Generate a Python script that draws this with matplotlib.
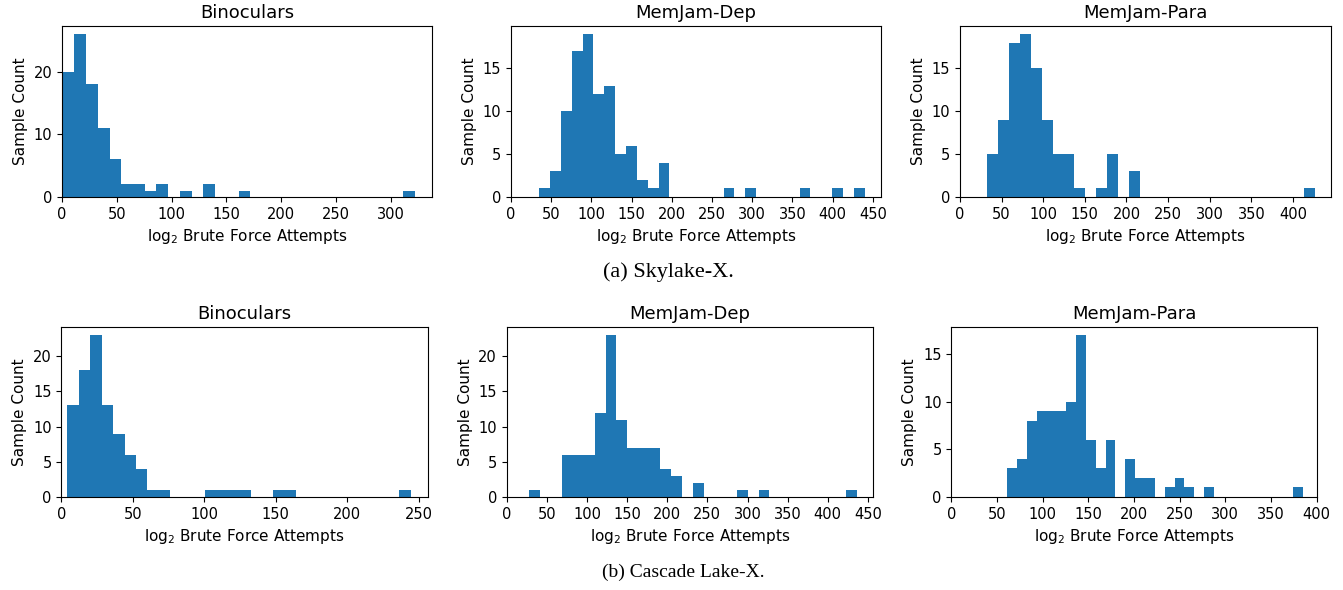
import matplotlib.pyplot as plt
from matplotlib.ticker import MultipleLocator
import numpy as np

# histogram counts (30 bins each), plus the data min/max
titles = ['Binoculars', 'MemJam-Dep', 'MemJam-Para']

# (a) Skylake-X
sky_bino_range = (0.5, 322)
sky_bino = [20, 26, 18, 11, 6, 2, 2, 1, 2, 0, 1, 0, 2, 0, 0,
            1, 0, 0, 0, 0, 0, 0, 0, 0, 0, 0, 0, 0, 0, 1]
sky_dep_range = (35, 440)
sky_dep = [1, 3, 10, 17, 19, 12, 13, 5, 6, 2, 1, 4, 0, 0, 0,
           0, 0, 1, 0, 1, 0, 0, 0, 0, 1, 0, 0, 1, 0, 1]
sky_para_range = (32.5, 426)
sky_para = [5, 9, 18, 19, 15, 9, 5, 5, 1, 0, 1, 5, 0, 3, 0,
            0, 0, 0, 0, 0, 0, 0, 0, 0, 0, 0, 0, 0, 0, 1]

# (b) Cascade Lake-X
cas_bino_range = (4.2, 244.6)
cas_bino = [13, 18, 23, 13, 9, 6, 4, 1, 1, 0, 0, 0, 1, 1, 1,
            1, 0, 0, 1, 1, 0, 0, 0, 0, 0, 0, 0, 0, 0, 1]
cas_dep_range = (27.8, 436.3)
cas_dep = [1, 0, 0, 6, 6, 6, 12, 23, 11, 7, 7, 7, 4, 3, 0,
           2, 0, 0, 0, 1, 0, 1, 0, 0, 0, 0, 0, 0, 0, 1]
cas_para_range = (61.2, 384.7)
cas_para = [3, 4, 8, 9, 9, 9, 10, 17, 6, 3, 6, 0, 4, 2, 2,
            0, 1, 2, 1, 0, 1, 0, 0, 0, 0, 0, 0, 0, 0, 1]

rows = [
    [(sky_bino_range, sky_bino), (sky_dep_range, sky_dep), (sky_para_range, sky_para)],
    [(cas_bino_range, cas_bino), (cas_dep_range, cas_dep), (cas_para_range, cas_para)],
]
captions = ['(a) Skylake-X.', '(b) Cascade Lake-X.']

W, H = 1343, 590
fig = plt.figure(figsize=(W / 100, H / 100), dpi=100)

# axes boxes in pixels: left, right, top, bottom
boxes = [
    [(62, 432.3, 26, 197), (511, 881, 26, 197), (960, 1331, 26, 197)],
    [(61.3, 428, 327, 497), (506.7, 873.3, 327, 497), (951.3, 1317.3, 327, 497)],
]

for r in range(2):
    for c in range(3):
        l, rr, t, b = boxes[r][c]
        ax = fig.add_axes([l / W, 1 - b / H, (rr - l) / W, (b - t) / H])
        (lo, hi), counts = rows[r][c]
        edges = np.linspace(lo, hi, len(counts) + 1)
        ax.hist(edges[:-1], bins=edges, weights=counts, color='#1f77b4')
        ax.set_xlim(left=0)
        ax.xaxis.set_major_locator(MultipleLocator(50))
        # the first panel has a taller y range, so coarser ticks
        ax.yaxis.set_major_locator(MultipleLocator(10 if max(counts) > 25 else 5))
        ax.set_title(titles[c], fontsize=13)
        ax.set_xlabel('log$_2$ Brute Force Attempts', fontsize=11)
        ax.set_ylabel('Sample Count', fontsize=11)
        ax.tick_params(labelsize=10.5)

fig.text(668 / W, 1 - 272 / H, captions[0], ha='center', va='center',
         family='Liberation Serif', fontsize=16)
fig.text(683 / W, 1 - 572 / H, captions[1], ha='center', va='center',
         family='Liberation Serif', fontsize=14)

plt.savefig('out.png', dpi=100)
